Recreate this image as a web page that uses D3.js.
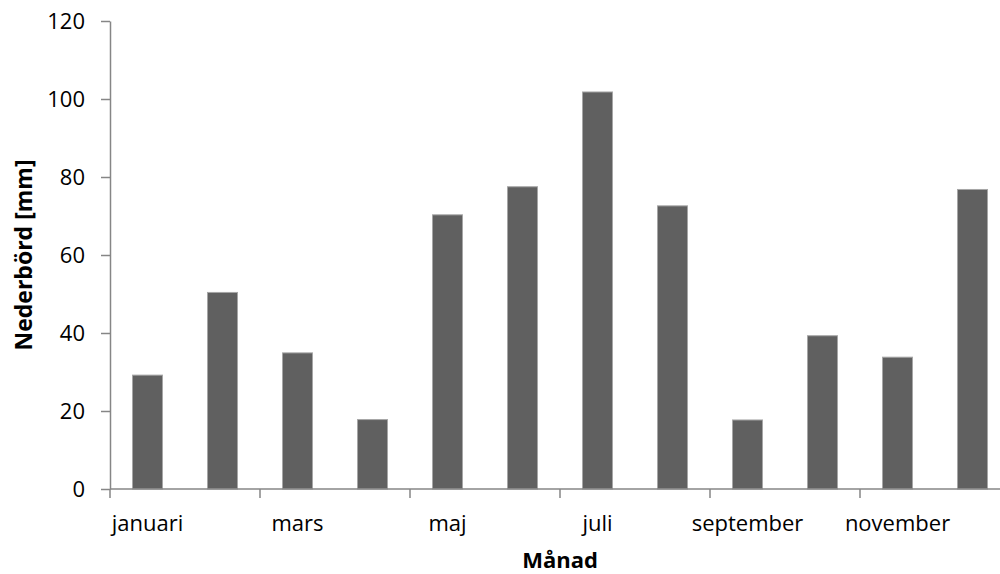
<!DOCTYPE html>
<html>
<head>
<meta charset="utf-8">
<script src="https://cdn.jsdelivr.net/npm/d3@7"></script>
<style>
  html, body { margin: 0; padding: 0; background: #fff; }
  svg { display: block; }
  text { font-family: "Open Sans", sans-serif; fill: #000; }
</style>
</head>
<body>
<svg id="chart" width="1000" height="574"></svg>
<script>
// Monthly precipitation (mm)
const months = ["januari", "februari", "mars", "april", "maj", "juni",
                "juli", "augusti", "september", "oktober", "november", "december"];
const precipitation = [29.2, 50.4, 34.9, 17.8, 70.3, 77.5, 101.8, 72.6, 17.7, 39.3, 33.8, 76.8];
const yTicks = [0, 20, 40, 60, 80, 100, 120];

const svg = d3.select("#chart");
const plotLeft = 110, plotRight = 1010, plotTop = 21, plotBottom = 489;
const axisColor = "#868686";

const x = d3.scaleBand()
  .domain(months)
  .range([plotLeft, plotRight])
  .paddingInner(0.6)
  .paddingOuter(0.3);

const y = d3.scaleLinear()
  .domain([0, 120])
  .range([plotBottom, plotTop]);

// Bars
svg.append("g")
  .selectAll("rect")
  .data(months.map((m, i) => ({ month: m, value: precipitation[i] })))
  .join("rect")
  .attr("x", d => x(d.month))
  .attr("y", d => y(d.value))
  .attr("width", x.bandwidth())
  .attr("height", d => y(0) - y(d.value))
  .attr("fill", "#606060")
  .attr("stroke", "#a6a6a6")
  .attr("stroke-width", 1);

// Y axis
const yAxis = svg.append("g")
  .attr("transform", `translate(${plotLeft},0)`)
  .call(d3.axisLeft(y).tickValues(yTicks).tickSize(9).tickSizeOuter(0).tickPadding(16));
yAxis.select(".domain").attr("stroke", axisColor).attr("stroke-width", 1.5);
yAxis.selectAll(".tick line").attr("stroke", axisColor).attr("stroke-width", 1.5);
yAxis.selectAll(".tick text")
  .style("font-family", "'Open Sans', sans-serif")
  .style("font-size", "22px")
  .attr("fill", "#000");

// X axis baseline
svg.append("line")
  .attr("x1", plotLeft).attr("x2", plotRight)
  .attr("y1", y(0)).attr("y2", y(0))
  .attr("stroke", axisColor).attr("stroke-width", 1.5);

// X ticks at every second category boundary
const step = x.step();
const boundaries = months
  .map((m, i) => i)
  .filter(i => i % 2 === 0)
  .map(i => x(months[i]) - step * x.paddingInner() / 2);
svg.append("g")
  .selectAll("line")
  .data(boundaries)
  .join("line")
  .attr("x1", d => d).attr("x2", d => d)
  .attr("y1", y(0)).attr("y2", y(0) + 9)
  .attr("stroke", axisColor).attr("stroke-width", 1.5);

// X labels on every second month
svg.append("g")
  .selectAll("text")
  .data(months.filter((m, i) => i % 2 === 0))
  .join("text")
  .attr("x", d => x(d) + x.bandwidth() / 2)
  .attr("y", 531)
  .attr("text-anchor", "middle")
  .style("font-size", "22px")
  .text(d => d);

// Axis titles
svg.append("text")
  .attr("x", (plotLeft + plotRight) / 2)
  .attr("y", 568)
  .attr("text-anchor", "middle")
  .style("font-size", "22px")
  .style("font-weight", "bold")
  .text("Månad");

svg.append("text")
  .attr("transform", `translate(32,${(plotTop + plotBottom) / 2}) rotate(-90)`)
  .attr("text-anchor", "middle")
  .style("font-size", "23px")
  .style("font-weight", "bold")
  .text("Nederbörd [mm]");
</script>
</body>
</html>
